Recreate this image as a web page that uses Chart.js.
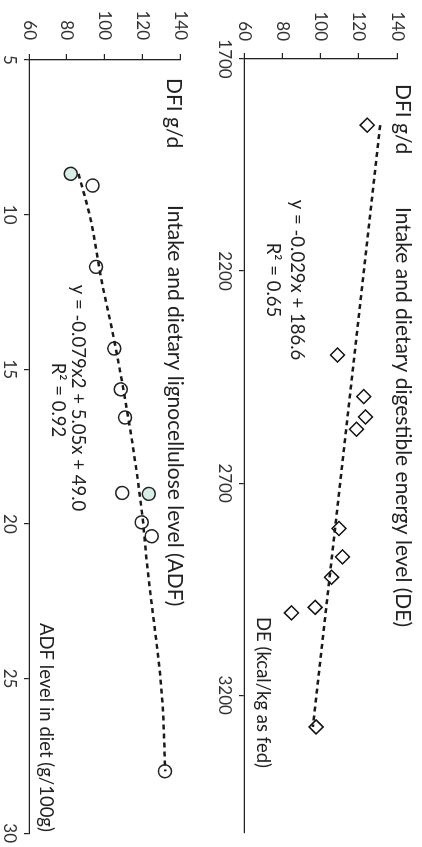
<!DOCTYPE html>
<html>
<head>
<meta charset="utf-8">
<script src="https://cdn.jsdelivr.net/npm/chart.js@4.4.1/dist/chart.umd.min.js"></script>
<style>
  html, body { margin: 0; padding: 0; background: #fff; overflow: hidden; }
  /* the figure is drawn upright and then turned a quarter clockwise */
  #page { position: absolute; left: 0; top: 0; width: 847px; height: 422px;
          transform-origin: 0 0; transform: translate(422px, 0) rotate(90deg); }
  canvas { display: block; }
</style>
</head>
<body>
<div id="page">
  <canvas id="chartDE" width="847" height="211"></canvas>
  <canvas id="chartADF" width="847" height="211"></canvas>
</div>
<script>
// intake vs digestible energy
const deValues = [1856, 2398, 2496, 2544, 2573, 2807, 2874, 2922, 2993, 3006, 3275];
const deIntake = [124.4, 108.9, 122.6, 123.5, 118.8, 109.7, 111.5, 105.8, 97.2, 84.8, 97.7];
const deTrendX = [1856, 3275];
const deTrendY = [131.2, 96.0];
const deTicks = [1700, 2200, 2700, 3200];

// intake vs lignocellulose
const adfValues = [8.68, 9.06, 11.69, 14.33, 15.65, 16.56, 19.0, 19.03, 19.95, 20.4, 28.0];
const adfIntake = [82.1, 93.7, 95.5, 105.2, 108.6, 110.9, 109.4, 123.5, 119.7, 125.0, 132.0];
const adfTrendX = [8.68, 10.06, 12.15, 13.93, 16.94, 19.61, 21.23, 25.54, 28.0];
const adfTrendY = [86.2, 92.3, 98.5, 104.7, 113.6, 119.8, 122.4, 130.4, 132.2];
const adfTicks = [5, 10, 15, 20, 25, 30];

const dfiTicks = [60, 80, 100, 120, 140];

const pairs = (xs, ys) => xs.map((x, i) => ({ x, y: ys[i] }));

function notes(items) {
  return {
    id: 'notes',
    afterDraw(chart) {
      const ctx = chart.ctx;
      ctx.save();
      ctx.fillStyle = '#222';
      ctx.textBaseline = 'alphabetic';
      items.forEach((t) => {
        ctx.font = t.font;
        ctx.textAlign = t.align || 'left';
        ctx.fillText(t.text, t.x, t.y);
      });
      ctx.restore();
    },
  };
}

function axis(min, max, ticks, fit) {
  return {
    type: 'linear',
    min,
    max,
    afterBuildTicks: (s) => { s.ticks = ticks.map((v) => ({ value: v })); },
    afterFit: fit,
    grid: { drawOnChartArea: false, drawTicks: true, tickLength: 5, color: '#222', lineWidth: 1.2 },
    border: { display: true, color: '#222', width: 1.3 },
    ticks: {
      font: { family: 'Lato', size: 17 },
      color: '#333',
      padding: 4,
      maxRotation: 0,
      autoSkip: false,
      callback: (v) => String(v),
    },
  };
}

function options(pad, xScale, yScale) {
  return {
    responsive: false,
    animation: false,
    layout: { padding: pad },
    plugins: { legend: { display: false }, tooltip: { enabled: false } },
    scales: { x: xScale, y: yScale },
  };
}

const trendStyle = {
  showLine: true,
  pointRadius: 0,
  borderColor: '#1a1a1a',
  borderWidth: 2.5,
  borderDash: [5, 4],
  fill: false,
};

const yDE = axis(60, 140, dfiTicks, (s) => { s.width = 59; });
yDE.ticks.padding = 12;
yDE.grid.tickLength = 6;

new Chart(document.getElementById('chartDE'), {
  type: 'scatter',
  data: {
    datasets: [
      { ...trendStyle, data: pairs(deTrendX, deTrendY) },
      {
        data: pairs(deValues, deIntake),
        pointStyle: 'rectRot',
        pointRadius: 7,
        borderWidth: 1.5,
        borderColor: '#111',
        backgroundColor: '#fff',
      },
    ],
  },
  options: options(
    { top: 25, right: 14 },
    axis(1700, 3525, deTicks, (s) => { s.height = 33; }),
    yDE
  ),
  plugins: [notes([
    { text: 'DFI g/d', x: 84, y: 26, font: '21px Lato' },
    { text: 'Intake and dietary digestible energy level (DE)', x: 207, y: 26, font: '21px Lato' },
    { text: 'y = -0.029x + 186.6', x: 280, y: 131, align: 'center', font: '18.5px Lato' },
    { text: 'R\u00b2 = 0.65', x: 280, y: 155, align: 'center', font: '18.5px Lato' },
    { text: 'DE (kcal/kg as fed)', x: 617, y: 165, font: '18.5px Lato' },
  ])],
});

const yADF = axis(60, 140, dfiTicks, (s) => { s.width = 60; });
yADF.ticks.padding = 14;
yADF.grid.tickLength = 6;

new Chart(document.getElementById('chartADF'), {
  type: 'scatter',
  data: {
    datasets: [
      { ...trendStyle, cubicInterpolationMode: 'monotone', data: pairs(adfTrendX, adfTrendY) },
      {
        data: pairs(adfValues, adfIntake),
        pointStyle: 'circle',
        pointRadius: 6.5,
        borderWidth: 1.5,
        borderColor: '#222',
        backgroundColor: (c) => ([0, 7].includes(c.dataIndex) ? '#d6efe9' : '#fff'),
      },
    ],
  },
  options: options(
    { top: 31, right: 12 },
    axis(5, 30, adfTicks, (s) => { s.height = 29; }),
    yADF
  ),
  plugins: [notes([
    { text: 'DFI g/d', x: 78, y: 44, font: '21px Lato' },
    { text: 'Intake and dietary lignocellulose level (ADF)', x: 205, y: 43, font: '21px Lato' },
    { text: 'y = -0.079x2 + 5.05x + 49.0', x: 398, y: 139, align: 'center', font: '18.5px Lato' },
    { text: 'R\u00b2 = 0.92', x: 400, y: 159, align: 'center', font: '18.5px Lato' },
    { text: 'ADF level in diet (g/100g)', x: 623, y: 171, font: '18.5px Lato' },
  ])],
});
</script>
</body>
</html>
